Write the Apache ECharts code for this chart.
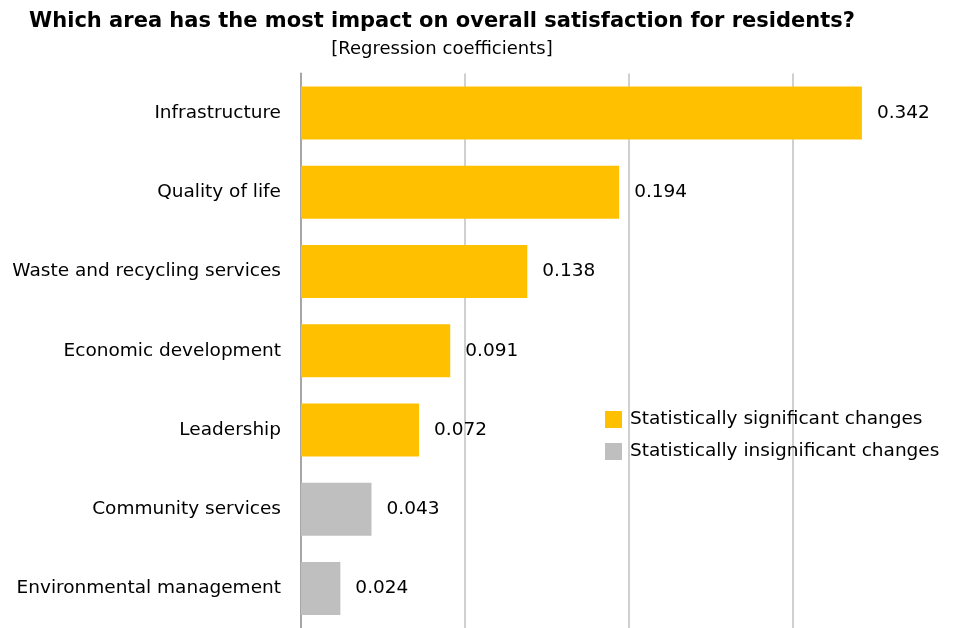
<!DOCTYPE html>
<html>
<head>
<meta charset="utf-8">
<script src="https://cdn.jsdelivr.net/npm/echarts@6/dist/echarts.min.js"></script>
<style>
  html, body { margin: 0; padding: 0; background: #fff; }
  #chart { width: 957px; height: 628px; }
</style>
</head>
<body>
<div id="chart"></div>
<script>
// Areas, top to bottom
const categories = [
  'Infrastructure',
  'Quality of life',
  'Waste and recycling services',
  'Economic development',
  'Leadership',
  'Community services',
  'Environmental management'
];
// Regression coefficients; '-' where the area belongs to the other group
const significant   = [0.342, 0.194, 0.138, 0.091, 0.072, '-', '-'];
const insignificant = ['-', '-', '-', '-', '-', 0.043, 0.024];
const seriesNames = ['Statistically significant changes', 'Statistically insignificant changes'];

const FONT = '"DejaVu Sans", sans-serif';

const labelStyle = {
  show: true,
  position: 'right',
  distance: 15,
  color: '#000',
  fontSize: 18.5,
  fontFamily: FONT,
  formatter: p => p.value.toFixed(3)
};

const chart = echarts.init(document.getElementById('chart'));
chart.setOption({
  animation: false,
  textStyle: { fontFamily: FONT },
  title: {
    text: 'Which area has the most impact on overall satisfaction for residents?',
    subtext: '[Regression coefficients]',
    left: 437,
    textAlign: 'center',
    top: 6,
    itemGap: 8,
    textStyle: { fontSize: 21, fontWeight: 'bold', color: '#000', fontFamily: FONT },
    subtextStyle: { fontSize: 18, color: '#000', fontFamily: FONT }
  },
  legend: {
    orient: 'vertical',
    left: 600,
    top: 405,
    itemWidth: 17,
    itemHeight: 17,
    itemGap: 13,
    icon: 'rect',
    textStyle: { fontSize: 18.5, color: '#000', fontFamily: FONT, padding: [0, 0, 0, 3] },
    data: seriesNames
  },
  grid: { left: 301, right: -3, top: 73.5, bottom: -5.5 },
  xAxis: {
    type: 'value',
    min: 0,
    max: 0.4,
    interval: 0.1,
    axisLabel: { show: false },
    axisLine: { show: false },
    axisTick: { show: false },
    splitLine: { show: true, showMaxLine: false, lineStyle: { color: '#d0d0d0', width: 2 } }
  },
  yAxis: {
    type: 'category',
    inverse: true,
    data: categories,
    axisTick: { show: false },
    axisLine: { show: true, lineStyle: { color: '#a6a6a6', width: 2 } },
    axisLabel: { fontSize: 18.5, color: '#000', margin: 20, fontFamily: FONT }
  },
  series: [
    {
      name: seriesNames[0],
      type: 'bar',
      stack: 'coef',
      data: significant,
      barWidth: 53,
      itemStyle: { color: '#FFC000' },
      label: labelStyle
    },
    {
      name: seriesNames[1],
      type: 'bar',
      stack: 'coef',
      data: insignificant,
      barWidth: 53,
      itemStyle: { color: '#BFBFBF' },
      label: labelStyle
    }
  ]
});
</script>
</body>
</html>
